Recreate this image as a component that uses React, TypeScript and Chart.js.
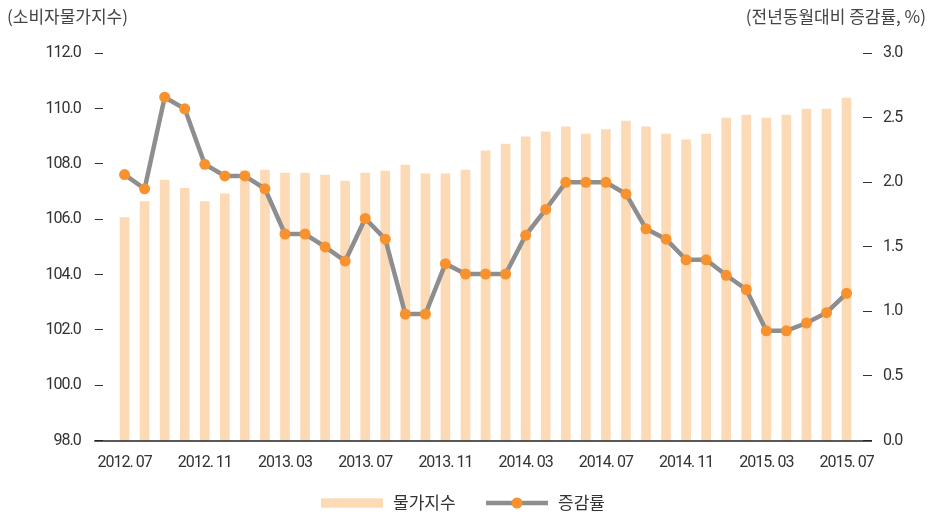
import React, { useEffect, useRef } from "react";
import { Chart, registerables } from "chart.js";

Chart.register(...registerables);

const months: string[] = [
  "2012. 07", "2012. 08", "2012. 09", "2012. 10", "2012. 11", "2012. 12",
  "2013. 01", "2013. 02", "2013. 03", "2013. 04", "2013. 05", "2013. 06",
  "2013. 07", "2013. 08", "2013. 09", "2013. 10", "2013. 11", "2013. 12",
  "2014. 01", "2014. 02", "2014. 03", "2014. 04", "2014. 05", "2014. 06",
  "2014. 07", "2014. 08", "2014. 09", "2014. 10", "2014. 11", "2014. 12",
  "2015. 01", "2015. 02", "2015. 03", "2015. 04", "2015. 05", "2015. 06",
  "2015. 07",
];

const priceIndex: number[] = [
  106.06, 106.64, 107.42, 107.12, 106.64, 106.92, 107.75, 107.78, 107.67, 107.67,
  107.6, 107.38, 107.67, 107.74, 107.96, 107.64, 107.64, 107.78, 108.47, 108.72,
  108.98, 109.16, 109.34, 109.08, 109.24, 109.55, 109.34, 109.08, 108.87, 109.08,
  109.66, 109.77, 109.66, 109.77, 109.98, 109.98, 110.38,
];

const changeRate: number[] = [
  2.06, 1.95, 2.66, 2.57, 2.14, 2.05, 2.05, 1.95, 1.6, 1.6,
  1.5, 1.39, 1.72, 1.56, 0.98, 0.98, 1.37, 1.29, 1.29, 1.29,
  1.59, 1.79, 2.0, 2.0, 2.0, 1.91, 1.64, 1.56, 1.4, 1.4,
  1.28, 1.17, 0.85, 0.85, 0.91, 0.99, 1.14,
];

const xTickIndices: number[] = [0, 4, 8, 12, 16, 20, 24, 28, 32, 36];
const leftTitle = "(소비자물가지수)";
const rightTitle = "(전년동월대비 증감률, %)";
const barLabel = "물가지수";
const lineLabel = "증감률";

const BAR_COLOR = "#FDDAB6";
const LINE_COLOR = "#8E8E8E";
const POINT_COLOR = "#F7922F";
const TEXT_COLOR = "#333333";
const NUM_FONT = "Roboto, 'Noto Sans', sans-serif";
const KR_FONT = "'Noto Sans CJK KR', sans-serif";

const decorPlugin = {
  id: "decor",
  beforeDraw(chart: any) {
    const ctx = chart.ctx as any;
    ctx.letterSpacing = "-1px";
  },
  afterDraw(chart: any) {
    const { chartArea } = chart;
    const ctx = chart.ctx as any;
    ctx.save();
    ctx.letterSpacing = "0px";
    // baseline
    ctx.strokeStyle = "#222222";
    ctx.lineWidth = 1.3;
    ctx.beginPath();
    ctx.moveTo(chartArea.left - 9, chartArea.bottom + 0.5);
    ctx.lineTo(chartArea.right + 9, chartArea.bottom + 0.5);
    ctx.stroke();

    // titles
    ctx.fillStyle = "#444444";
    ctx.font = `400 17px ${KR_FONT}`;
    ctx.textBaseline = "middle";
    ctx.textAlign = "left";
    ctx.fillText(leftTitle, 7, 17);
    ctx.textAlign = "right";
    ctx.fillText(rightTitle, 926, 17);

    // legend
    const ly = 503;
    ctx.fillStyle = BAR_COLOR;
    ctx.fillRect(321, ly - 4.75, 62, 9.5);
    ctx.fillStyle = TEXT_COLOR;
    ctx.font = `400 17px ${KR_FONT}`;
    ctx.textAlign = "left";
    ctx.fillText(barLabel, 393, ly);
    ctx.strokeStyle = LINE_COLOR;
    ctx.lineWidth = 4.5;
    ctx.beginPath();
    ctx.moveTo(486, ly);
    ctx.lineTo(548, ly);
    ctx.stroke();
    ctx.fillStyle = POINT_COLOR;
    ctx.beginPath();
    ctx.arc(517, ly, 5.5, 0, Math.PI * 2);
    ctx.fill();
    ctx.fillStyle = TEXT_COLOR;
    ctx.fillText(lineLabel, 558, ly);
    ctx.restore();
  },
};

export default function App() {
  const canvasRef = useRef<HTMLCanvasElement | null>(null);

  useEffect(() => {
    document.body.style.margin = "0";
    const canvas = canvasRef.current;
    if (!canvas) return;
    const chart = new Chart(canvas, {
      data: {
        datasets: [
          {
            type: "line",
            label: lineLabel,
            data: changeRate.map((v, i) => ({ x: i, y: v })),
            yAxisID: "y1",
            borderColor: LINE_COLOR,
            borderWidth: 4.5,
            pointRadius: 5.5,
            pointBackgroundColor: POINT_COLOR,
            pointBorderWidth: 0,
            tension: 0,
            order: 0,
          },
          {
            type: "bar",
            label: barLabel,
            data: priceIndex.map((v, i) => ({ x: i, y: v })),
            yAxisID: "y",
            backgroundColor: BAR_COLOR,
            barThickness: 9,
            order: 1,
          },
        ],
      } as any,
      options: {
        animation: false,
        responsive: false,
        maintainAspectRatio: false,
        layout: { padding: { top: 53.3, left: 0, right: 0, bottom: 0 } },
        plugins: { legend: { display: false }, tooltip: { enabled: false } },
        scales: {
          x: {
            type: "linear",
            offset: false,
            min: -1.06,
            max: 36.82,
            grid: { display: false, offset: false },
            border: { display: false },
            afterBuildTicks: (scale: any) => {
              scale.ticks = xTickIndices.map((v) => ({ value: v }));
            },
            afterFit: (scale: any) => {
              scale.height = 73.5;
            },
            ticks: {
              autoSkip: false,
              maxRotation: 0,
              padding: 5,
              color: TEXT_COLOR,
              font: { family: NUM_FONT, size: 16 },
              callback: (v: any) => months[Math.round(Number(v))] ?? "",
            },
          },
          y: {
            position: "left",
            min: 98,
            max: 112,
            grid: { drawOnChartArea: false, drawTicks: true, tickLength: 8.5, color: "#333333", lineWidth: 1 },
            border: { display: false },
            afterFit: (scale: any) => {
              scale.width = 103.3;
            },
            ticks: {
              stepSize: 2,
              padding: 14,
              color: TEXT_COLOR,
              font: { family: NUM_FONT, size: 16 },
              callback: (v: any) => Number(v).toFixed(1),
            },
          },
          y1: {
            position: "right",
            min: 0,
            max: 3,
            grid: { drawOnChartArea: false, drawTicks: true, tickLength: 9, color: "#333333", lineWidth: 1 },
            border: { display: false },
            afterFit: (scale: any) => {
              scale.width = 65;
            },
            ticks: {
              stepSize: 0.5,
              padding: 11,
              color: TEXT_COLOR,
              font: { family: NUM_FONT, size: 16 },
              callback: (v: any) => Number(v).toFixed(1),
            },
          },
        },
      } as any,
      plugins: [decorPlugin],
    });
    return () => chart.destroy();
  }, []);

  return (
    <div style={{ width: 928, height: 514, overflow: "hidden" }}>
      <canvas ref={canvasRef} width={928} height={514} style={{ display: "block" }} />
    </div>
  );
}
